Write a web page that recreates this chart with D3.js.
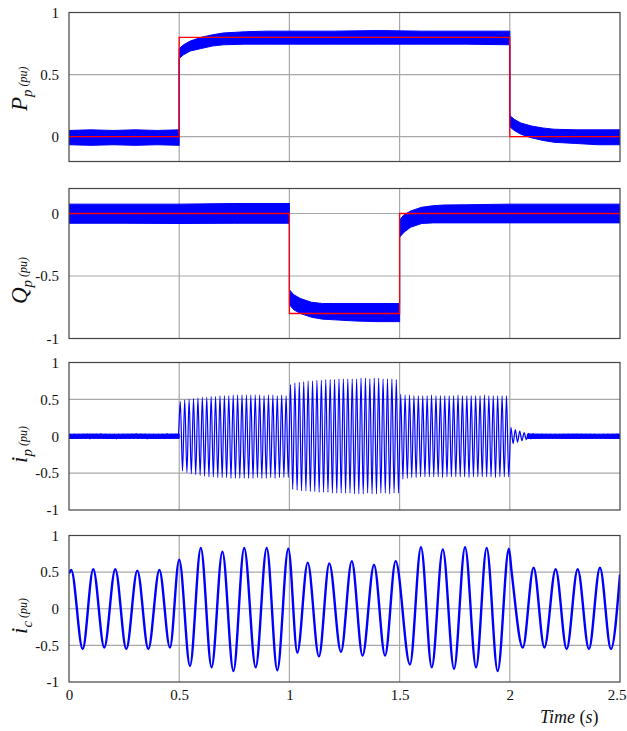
<!DOCTYPE html>
<html><head><meta charset="utf-8">
<script src="https://cdn.jsdelivr.net/npm/d3@7"></script>
<style>body{margin:0;background:#fff}</style>
</head><body>
<svg id="c" width="627" height="731"></svg>
<script>
// ---------------- data ----------------
const xTicks = [0, 0.5, 1, 1.5, 2, 2.5];
const xTickLabels = ["0", "0.5", "1", "1.5", "2", "2.5"];

// Panel 1: P_p reference (red) and measured band (blue)
const pRefT = [0, 0.5, 0.5, 2.0, 2.0, 2.5];
const pRefV = [0, 0, 0.8, 0.8, 0, 0];
const pBandT = [0, 0.1, 0.2, 0.3, 0.4, 0.5, 0.5, 0.52, 0.55, 0.6, 0.65, 0.7, 0.8, 0.9, 1.0, 1.2, 1.4, 1.6, 1.8, 2.0, 2.0, 2.02, 2.05, 2.1, 2.15, 2.2, 2.3, 2.4, 2.5];
const pUpper = [0.05, 0.055, 0.05, 0.055, 0.05, 0.055, 0.71, 0.74, 0.77, 0.80, 0.82, 0.835, 0.845, 0.85, 0.85, 0.85, 0.855, 0.85, 0.85, 0.85, 0.17, 0.14, 0.11, 0.085, 0.07, 0.06, 0.055, 0.055, 0.055];
const pLower = [-0.065, -0.07, -0.065, -0.07, -0.065, -0.07, 0.63, 0.66, 0.69, 0.71, 0.73, 0.74, 0.745, 0.745, 0.745, 0.745, 0.745, 0.745, 0.745, 0.74, 0.08, 0.05, 0.02, -0.01, -0.03, -0.045, -0.055, -0.065, -0.065];

// Panel 2: Q_p
const qRefT = [0, 1.0, 1.0, 1.5, 1.5, 2.5];
const qRefV = [0, 0, -0.8, -0.8, 0, 0];
const qBandT = [0, 0.25, 0.5, 0.75, 1.0, 1.0, 1.02, 1.05, 1.1, 1.15, 1.2, 1.3, 1.4, 1.5, 1.5, 1.52, 1.55, 1.6, 1.65, 1.7, 1.8, 2.0, 2.25, 2.5];
const qUpper = [0.075, 0.075, 0.075, 0.08, 0.08, -0.61, -0.65, -0.68, -0.71, -0.72, -0.72, -0.72, -0.72, -0.72, -0.05, -0.01, 0.02, 0.05, 0.062, 0.068, 0.07, 0.075, 0.075, 0.075];
const qLower = [-0.078, -0.078, -0.08, -0.078, -0.078, -0.73, -0.77, -0.80, -0.83, -0.845, -0.85, -0.86, -0.865, -0.865, -0.19, -0.15, -0.11, -0.08, -0.075, -0.075, -0.075, -0.075, -0.075, -0.075];

// Panel 3: i_p, 50 Hz current — per-cycle peak / trough values, by segment
const ipPeriod = 0.02;
const ipSegStart = [0, 0.5, 1.0, 1.5, 2.0];
const ipPeaks = [
  [0.03,0.03,0.025,0.03,0.03,0.025,0.03,0.035,0.03,0.025,0.03,0.03,0.03,0.025,0.03,0.035,0.03,0.03,0.025,0.03,0.03,0.03,0.035,0.03,0.03],
  [0.47,0.49,0.50,0.51,0.52,0.53,0.53,0.54,0.54,0.55,0.55,0.55,0.56,0.56,0.56,0.56,0.56,0.56,0.56,0.55,0.56,0.56,0.55,0.56,0.55],
  [0.70,0.72,0.73,0.74,0.75,0.75,0.76,0.76,0.77,0.77,0.77,0.78,0.78,0.78,0.78,0.78,0.79,0.79,0.78,0.79,0.79,0.78,0.78,0.78,0.77],
  [0.57,0.56,0.56,0.55,0.55,0.55,0.55,0.56,0.55,0.55,0.55,0.55,0.55,0.56,0.55,0.55,0.55,0.55,0.55,0.56,0.55,0.55,0.55,0.55,0.55],
  [0.12,0.09,0.07,0.05,0.04,0.035,0.03,0.03,0.025,0.03,0.03,0.025,0.03,0.03,0.025,0.03,0.03,0.025,0.03,0.03,0.025,0.03,0.03,0.025,0.03]
];
const ipTroughs = [
  [-0.03,-0.025,-0.03,-0.03,-0.035,-0.03,-0.025,-0.03,-0.03,-0.03,-0.035,-0.03,-0.025,-0.03,-0.03,-0.03,-0.025,-0.035,-0.03,-0.03,-0.025,-0.03,-0.03,-0.03,-0.03],
  [-0.47,-0.49,-0.51,-0.52,-0.53,-0.54,-0.55,-0.55,-0.56,-0.56,-0.56,-0.57,-0.57,-0.57,-0.57,-0.57,-0.57,-0.56,-0.57,-0.57,-0.56,-0.57,-0.56,-0.56,-0.56],
  [-0.72,-0.73,-0.74,-0.74,-0.75,-0.75,-0.76,-0.76,-0.76,-0.77,-0.77,-0.77,-0.77,-0.77,-0.78,-0.78,-0.78,-0.77,-0.78,-0.78,-0.77,-0.77,-0.78,-0.77,-0.77],
  [-0.58,-0.57,-0.56,-0.56,-0.55,-0.55,-0.55,-0.55,-0.55,-0.56,-0.55,-0.55,-0.55,-0.55,-0.55,-0.56,-0.55,-0.55,-0.55,-0.55,-0.55,-0.56,-0.55,-0.55,-0.55],
  [-0.10,-0.08,-0.06,-0.045,-0.035,-0.03,-0.03,-0.025,-0.03,-0.03,-0.025,-0.03,-0.03,-0.03,-0.025,-0.03,-0.03,-0.03,-0.025,-0.03,-0.03,-0.03,-0.025,-0.03,-0.03]
];
// Panel 3 noise floor band (quiet intervals)
const ipNoiseT = [0, 0.1, 0.2, 0.3, 0.4, 0.5, null, 2.08, 2.2, 2.3, 2.4, 2.5];
const ipNoiseU = [0.028, 0.03, 0.028, 0.03, 0.028, 0.03, null, 0.03, 0.028, 0.03, 0.028, 0.03];
const ipNoiseL = [-0.03, -0.028, -0.03, -0.028, -0.03, -0.028, null, -0.03, -0.028, -0.03, -0.028, -0.03];

// Panel 4: i_c, 10 Hz current — extremum times and values
const icT = [0, 0.01, 0.062, 0.11, 0.16, 0.21, 0.26, 0.31, 0.36, 0.41, 0.458, 0.5, 0.549, 0.598, 0.647, 0.696, 0.746, 0.795, 0.847, 0.897, 0.945, 0.995, 1.036, 1.083, 1.134, 1.181, 1.234, 1.283, 1.332, 1.384, 1.434, 1.482, 1.547, 1.597, 1.646, 1.696, 1.747, 1.797, 1.847, 1.895, 1.945, 1.996, 2.008, 2.059, 2.108, 2.157, 2.208, 2.258, 2.308, 2.359, 2.409, 2.459, 2.5];
const icV = [0.48, 0.53, -0.55, 0.54, -0.53, 0.54, -0.55, 0.52, -0.55, 0.53, -0.53, 0.67, -0.78, 0.83, -0.80, 0.78, -0.85, 0.83, -0.80, 0.83, -0.84, 0.82, -0.60, 0.63, -0.65, 0.62, -0.59, 0.65, -0.64, 0.60, -0.64, 0.65, -0.76, 0.84, -0.80, 0.81, -0.82, 0.84, -0.80, 0.83, -0.85, 0.82, 0.51, -0.53, 0.56, -0.53, 0.54, -0.55, 0.54, -0.55, 0.56, -0.55, 0.47];

const yTicks1 = [0, 0.5, 1];
const yTicks2 = [-1, -0.5, 0];
const yTicks3 = [-1, -0.5, 0, 0.5, 1];
const yTicks4 = [-1, -0.5, 0, 0.5, 1];

// ---------------- drawing ----------------
const svg = d3.select("#c");
const x = d3.scaleLinear().domain([0, 2.5]).range([69, 620]);
const serif = "Liberation Serif, Times New Roman, serif";
const BLUE = "#0000ff";

const panels = [
  {top: 12.5, bottom: 161.5, domain: [-0.2, 1], ticks: yTicks1, sym: "P", sub: "p", labelY: 111},
  {top: 188.5, bottom: 338.5, domain: [-1, 0.2], ticks: yTicks2, sym: "Q", sub: "p", labelY: 304},
  {top: 362.5, bottom: 510, domain: [-1, 1], ticks: yTicks3, sym: "i", sub: "p", labelY: 463},
  {top: 535.5, bottom: 682, domain: [-1, 1], ticks: yTicks4, sym: "i", sub: "c", labelY: 634}
];

const defs = svg.append("defs");
panels.forEach((p, i) => {
  p.y = d3.scaleLinear().domain(p.domain).range([p.bottom, p.top]);
  defs.append("clipPath").attr("id", "clip" + i).append("rect")
    .attr("x", x(0)).attr("y", p.top).attr("width", x(2.5) - x(0)).attr("height", p.bottom - p.top);
  p.g = svg.append("g");
  const gg = p.g.append("g").attr("stroke", "#a8a8a8").attr("stroke-width", 1.2);
  xTicks.filter(t => t > 0 && t < 2.5).forEach(t => {
    gg.append("line").attr("x1", x(t)).attr("x2", x(t)).attr("y1", p.top).attr("y2", p.bottom);
  });
  p.ticks.filter(t => t > p.domain[0] && t < p.domain[1]).forEach(t => {
    gg.append("line").attr("x1", x(0)).attr("x2", x(2.5)).attr("y1", p.y(t)).attr("y2", p.y(t));
  });
  p.data = p.g.append("g").attr("clip-path", `url(#clip${i})`);
  const ax = p.g.append("g").attr("transform", `translate(${x(0)},0)`)
    .call(d3.axisLeft(p.y).tickValues(p.ticks).tickSize(0).tickPadding(10).tickFormat(v => String(v)));
  ax.select(".domain").remove();
  ax.attr("font-family", null).attr("font-size", null);
  ax.selectAll("text").style("font-family", serif).style("font-size", "15px").attr("fill", "#111");
  const lt = p.g.append("text")
    .attr("transform", `translate(27,${p.labelY}) rotate(-90)`)
    .style("font-family", serif).attr("font-style", "italic").attr("fill", "#111");
  lt.append("tspan").attr("font-size", 23).text(p.sym);
  lt.append("tspan").attr("font-size", 15).attr("dy", 5).text(p.sub);
  lt.append("tspan").attr("font-size", 12).attr("dy", -5).attr("dx", 3).text("(pu)");
});

function band(p, T, U, L) {
  const rows = T.map((t, k) => ({t, u: U[k], l: L[k]}));
  const area = d3.area().defined(d => d.t !== null).x(d => x(d.t)).y0(d => p.y(d.l)).y1(d => p.y(d.u));
  p.data.append("path").attr("d", area(rows)).attr("fill", BLUE)
    .attr("stroke", BLUE).attr("stroke-width", 1);
}
function stepLine(p, T, V) {
  const rows = T.map((t, k) => ({t, v: V[k]}));
  const line = d3.line().x(d => x(d.t)).y(d => p.y(d.v));
  p.data.append("path").attr("d", line(rows)).attr("fill", "none")
    .attr("stroke", "#ff0000").attr("stroke-width", 1.3);
}

band(panels[0], pBandT, pUpper, pLower);
stepLine(panels[0], pRefT, pRefV);
band(panels[1], qBandT, qUpper, qLower);
stepLine(panels[1], qRefT, qRefV);

// Panel 3
const ipRows = [];
ipSegStart.forEach((s, si) => {
  ipPeaks[si].forEach((pk, k) => {
    ipRows.push({t: s + k * ipPeriod + ipPeriod / 4, v: pk});
    ipRows.push({t: s + k * ipPeriod + 3 * ipPeriod / 4, v: ipTroughs[si][k]});
  });
});
const p3 = panels[2];
p3.data.append("path")
  .attr("d", d3.line().curve(d3.curveMonotoneX).x(d => x(d.t)).y(d => p3.y(d.v))(ipRows))
  .attr("fill", "none").attr("stroke", BLUE).attr("stroke-width", 1.2);
band(p3, ipNoiseT, ipNoiseU, ipNoiseL);

// Panel 4
const p4 = panels[3];
const icRows = icT.map((t, k) => ({t, v: icV[k]}));
p4.data.append("path")
  .attr("d", d3.line().curve(d3.curveMonotoneX).x(d => x(d.t)).y(d => p4.y(d.v))(icRows))
  .attr("fill", "none").attr("stroke", BLUE).attr("stroke-width", 2.4);

panels.forEach(p => {
  p.g.append("rect").attr("x", x(0)).attr("y", p.top).attr("width", x(2.5) - x(0)).attr("height", p.bottom - p.top)
    .attr("fill", "none").attr("stroke", "#444").attr("stroke-width", 1.2);
});

const xa = svg.append("g").attr("transform", `translate(0,${panels[3].bottom})`)
  .call(d3.axisBottom(x).tickValues(xTicks).tickSize(0).tickPadding(7).tickFormat((d, i) => xTickLabels[i]));
xa.select(".domain").remove();
xa.attr("font-family", null).attr("font-size", null);
xa.selectAll("text").style("font-family", serif).style("font-size", "15px").attr("fill", "#111");
xa.selectAll("text").filter(d => d === 2.5).attr("text-anchor", "end").attr("dx", 6);

const tt = svg.append("text").attr("x", 540).attr("y", 723).style("font-family", serif).attr("font-size", 18).attr("fill", "#111");
tt.append("tspan").attr("font-style", "italic").text("Time ");
tt.append("tspan").text("(");
tt.append("tspan").attr("font-style", "italic").text("s");
tt.append("tspan").text(")");
</script>
</body></html>
